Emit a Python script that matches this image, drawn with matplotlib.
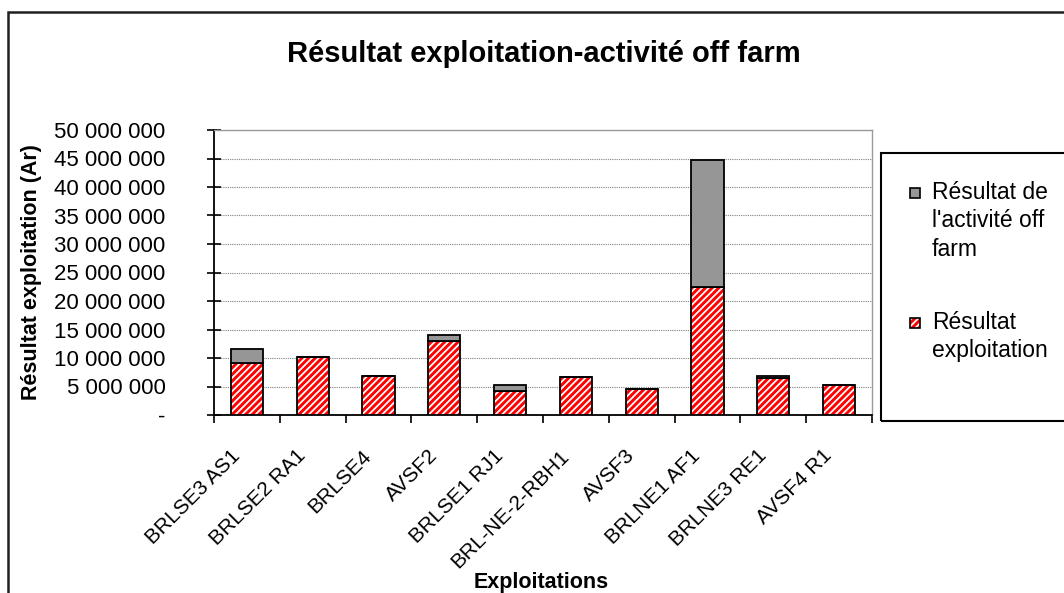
import matplotlib
matplotlib.use("Agg")
import matplotlib.pyplot as plt
import numpy as np
from matplotlib.patches import Rectangle
from matplotlib.ticker import FuncFormatter, MultipleLocator
from matplotlib.transforms import ScaledTranslation

plt.rcParams['font.family'] = ['Liberation Sans', 'DejaVu Sans']
plt.rcParams['hatch.linewidth'] = 2.1
plt.rcParams['hatch.color'] = '#ff0000'

exploitations = ['BRLSE3 AS1', 'BRLSE2 RA1', 'BRLSE4', 'AVSF2', 'BRLSE1 RJ1',
                 'BRL-NE-2-RBH1', 'AVSF3', 'BRLNE1 AF1', 'BRLNE3 RE1', 'AVSF4 R1']
# Ariary
resultat_exploitation = [9050000, 10100000, 6900000, 13000000, 4200000,
                         6600000, 4600000, 22500000, 6500000, 5300000]
resultat_off_farm = [2450000, 0, 0, 1000000, 1000000,
                     0, 0, 22200000, 350000, 0]

legend_labels = ["Résultat de\nl'activité off\nfarm", 'Résultat\nexploitation']


def fmt_ar(v, pos):
    if abs(v) < 1:
        return '-'
    return f'{v:,.0f}'.replace(',', ' ')


def px(xp, yp):
    # pixel position (from top-left) -> figure fraction
    return xp / 1064, 1 - yp / 593


fig = plt.figure(figsize=(10.64, 5.93), dpi=100)
ax = fig.add_axes([214 / 1064, 1 - 415 / 593, 658 / 1064, 285 / 593])

x = np.arange(len(exploitations))
w = 0.49

# hatched fill first, black outline on top (hatch takes the edge colour)
ax.bar(x, resultat_exploitation, w, color='white', edgecolor='#ff0000',
       hatch='/////', linewidth=0, zorder=3)
ax.bar(x, resultat_exploitation, w, fill=False, edgecolor='black',
       linewidth=1.3, zorder=4)
ax.bar(x, resultat_off_farm, w, bottom=resultat_exploitation, color='#969696',
       edgecolor='black', linewidth=1.3, zorder=4)

ax.set_xlim(-0.5, len(exploitations) - 0.5)
ax.set_ylim(0, 50000000)
ax.yaxis.set_major_locator(MultipleLocator(5000000))
ax.yaxis.set_major_formatter(FuncFormatter(fmt_ar))
ax.grid(True, axis='y', color='#808080', linestyle=(0, (1, 1)), linewidth=0.8, zorder=0)

# ticks at category boundaries, labels at centres
ax.set_xticks(np.arange(-0.5, len(exploitations)), labels=[''] * (len(exploitations) + 1))
ax.set_xticks(x, labels=exploitations, minor=True)
ax.tick_params(axis='x', which='major', direction='out', length=6, width=1.2, color='black')
ax.tick_params(axis='x', which='minor', length=0, pad=10, labelsize=15)
ax.tick_params(axis='y', direction='inout', length=10, width=1.2, pad=30, labelsize=16)
for lab in ax.get_xticklabels(minor=True):
    lab.set_rotation(45)
    lab.set_rotation_mode('anchor')
    lab.set_ha('right')
    lab.set_va('center')
    lab.set_transform(lab.get_transform() + ScaledTranslation(-10 / 100, -24 / 100, fig.dpi_scale_trans))

for s in ['left', 'bottom']:
    ax.spines[s].set_color('black')
    ax.spines[s].set_linewidth(1.3)
for s in ['top', 'right']:
    ax.spines[s].set_color('#9a9a9a')
    ax.spines[s].set_linewidth(1.0)

ax.set_ylabel('Résultat exploitation (Ar)', fontsize=15.5, fontweight='bold')
ax.yaxis.set_label_coords(-0.262, 0.5)
ax.set_xlabel('Exploitations', fontsize=15.5, fontweight='bold')
ax.xaxis.set_label_coords(0.497, -0.55)

fig.text(*px(544, 54), 'Résultat exploitation-activité off farm',
         ha='center', va='center', fontsize=21, fontweight='bold')

# outer chart frame and legend frame
fig.patches.append(Rectangle((8 / 1064, -0.1), 1.2, 1 - 12 / 593 + 0.1,
                             transform=fig.transFigure, fill=False,
                             edgecolor='#202020', linewidth=1.8))
fig.patches.append(Rectangle(px(881, 421), 0.3, 268 / 593,
                             transform=fig.transFigure, fill=False,
                             edgecolor='black', linewidth=1.5))

# legend (drawn by hand so the key sits on the first line of each label)
key_fills = [dict(facecolor='#969696', edgecolor='#969696', linewidth=0),
             dict(facecolor='white', edgecolor='#ff0000', hatch='/////', linewidth=0)]
key_y = [193, 323]
for lbl, sty, ky in zip(legend_labels, key_fills, key_y):
    fig.patches.append(Rectangle(px(910, ky + 5), 10 / 1064, 10 / 593,
                                 transform=fig.transFigure, **sty))
    fig.patches.append(Rectangle(px(910, ky + 5), 10 / 1064, 10 / 593,
                                 transform=fig.transFigure, fill=False,
                                 edgecolor='black', linewidth=1.2))
    fig.text(*px(932, ky - 12), lbl, ha='left', va='top', fontsize=16.5,
             linespacing=1.3)

fig.savefig('out.png', dpi=100)
